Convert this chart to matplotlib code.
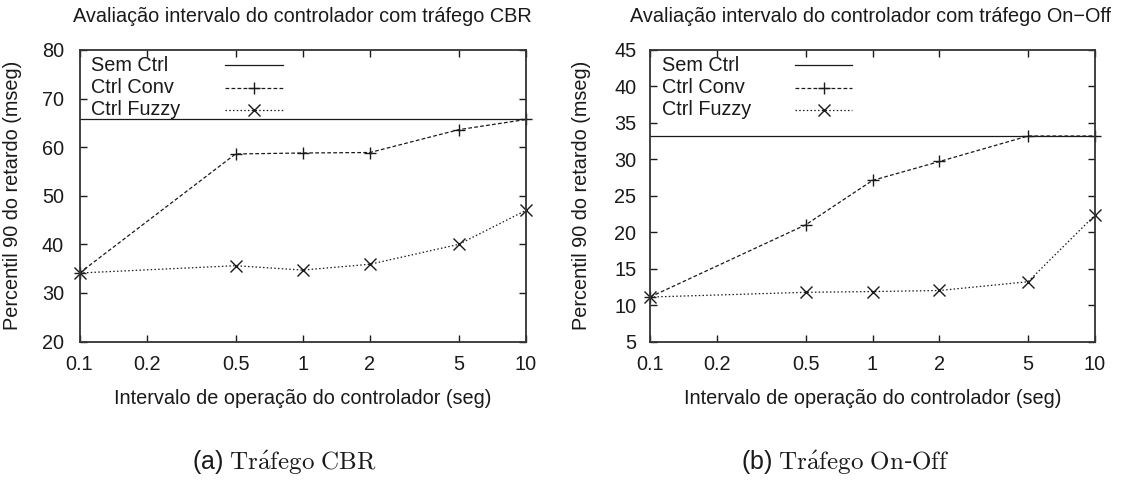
import matplotlib
matplotlib.use("Agg")
import matplotlib.pyplot as plt
from matplotlib import font_manager as fm

# ---------------- data ----------------
intervals = [0.1, 0.5, 1, 2, 5, 10]
xticks = [0.1, 0.2, 0.5, 1, 2, 5, 10]
xticklabels = ["0.1", "0.2", "0.5", "1", "2", "5", "10"]

cbr_sem = 65.7
cbr_conv = [34.1, 58.6, 58.8, 58.9, 63.6, 65.7]
cbr_fuzzy = [34.1, 35.6, 34.7, 35.9, 40.0, 47.0]

onoff_sem = 33.2
onoff_conv = [11.1, 21.0, 27.1, 29.7, 33.2, 33.2]
onoff_fuzzy = [11.1, 11.75, 11.85, 12.0, 13.2, 22.35]

titles = ["Avaliação intervalo do controlador com tráfego CBR",
          "Avaliação intervalo do controlador com tráfego On\u2212Off"]
captions = [r"(a) $\mathrm{Tr\acute{a}fego\ CBR}$",
            r"(b) $\mathrm{Tr\acute{a}fego\ On}$-$\mathrm{Off}$"]
xlabel = "Intervalo de operação do controlador (seg)"
ylabel = "Percentil 90 do retardo (mseg)"
legend_labels = ["Sem Ctrl", "Ctrl Conv", "Ctrl Fuzzy"]

# ---------------- fonts ----------------
avail = {f.name for f in fm.fontManager.ttflist}
sans = [f for f in ["Liberation Sans", "Arimo", "DejaVu Sans"] if f in avail]
plt.rcParams["font.family"] = sans
plt.rcParams["mathtext.fontset"] = "cm"

FS = 14.3
INK = "#1a1a1a"

fig = plt.figure(figsize=(11.23, 4.83), dpi=100)
W, H = 1123.0, 483.0

def make_axes(x0, x1, y0, y1):
    return fig.add_axes([x0 / W, 1 - y1 / H, (x1 - x0) / W, (y1 - y0) / H])

axes = [make_axes(79.5, 526, 50, 341.5), make_axes(650, 1095, 50, 341.5)]
ylims = [(20, 80), (5, 45)]
ystep = [10, 5]
sems = [cbr_sem, onoff_sem]
convs = [cbr_conv, onoff_conv]
fuzzies = [cbr_fuzzy, onoff_fuzzy]
title_x = [302, 871]
caption_x = [284, 845]
ypads = [11.2, 9.8]
ylabel_x = [-0.129, -0.133]

conv_ls = (0, (3.0, 1.8))
fuzzy_ls = (0, (1.2, 1.8))
lw = 0.9
ms = 8.0

for i, ax in enumerate(axes):
    ax.set_xscale("log")
    ax.set_xlim(0.1, 10)
    ax.set_ylim(*ylims[i])
    ax.axhline(sems[i], color=INK, lw=lw, ls="-")
    ax.plot(intervals, convs[i], color=INK, lw=lw, ls=conv_ls,
            marker="+", ms=ms, mew=1.0, clip_on=False)
    ax.plot(intervals, fuzzies[i], color=INK, lw=lw, ls=fuzzy_ls,
            marker="x", ms=ms, mew=1.0, clip_on=False)

    ax.set_xticks(xticks)
    ax.set_xticklabels(xticklabels)
    ax.xaxis.set_minor_locator(matplotlib.ticker.NullLocator())
    lo, hi = ylims[i]
    ax.set_yticks(list(range(lo, hi + 1, ystep[i])))
    ax.tick_params(direction="in", length=5, width=1.0, top=True, right=True,
                   labelsize=FS, colors=INK, labelcolor=INK)
    ax.tick_params(axis="y", pad=ypads[i])
    ax.tick_params(axis="x", pad=9.7)
    for s in ax.spines.values():
        s.set_linewidth(1.3)
        s.set_color("#333333")

    ax.set_xlabel(xlabel, fontsize=FS, color=INK)
    ax.xaxis.set_label_coords(0.5, -0.163)
    ax.set_ylabel(ylabel, fontsize=FS, color=INK)
    ax.yaxis.set_label_coords(ylabel_x[i], 0.5)

    # legend (gnuplot style: text left, sample on right)
    ly = [0.947, 0.870, 0.795]
    sx0, sx1 = 0.326, 0.455
    styles = [("-", None), (conv_ls, "+"), (fuzzy_ls, "x")]
    for k, lab in enumerate(legend_labels):
        ax.text(0.026, ly[k], lab, transform=ax.transAxes, fontsize=FS,
                va="center", ha="left", color=INK)
        ls, mk = styles[k]
        ax.plot([sx0, sx1], [ly[k], ly[k]], transform=ax.transAxes,
                color=INK, lw=lw, ls=ls)
        if mk:
            ax.plot([(sx0 + sx1) / 2], [ly[k]], transform=ax.transAxes,
                    color=INK, marker=mk, ms=ms, mew=1.0, ls="none")

    fig.text(title_x[i] / W, 1 - 17 / H, titles[i], fontsize=FS,
             ha="center", va="center", color=INK)
    fig.text(caption_x[i] / W, 1 - 462 / H, captions[i], fontsize=18,
             ha="center", va="center", color=INK)

fig.savefig("out.png", dpi=100)
